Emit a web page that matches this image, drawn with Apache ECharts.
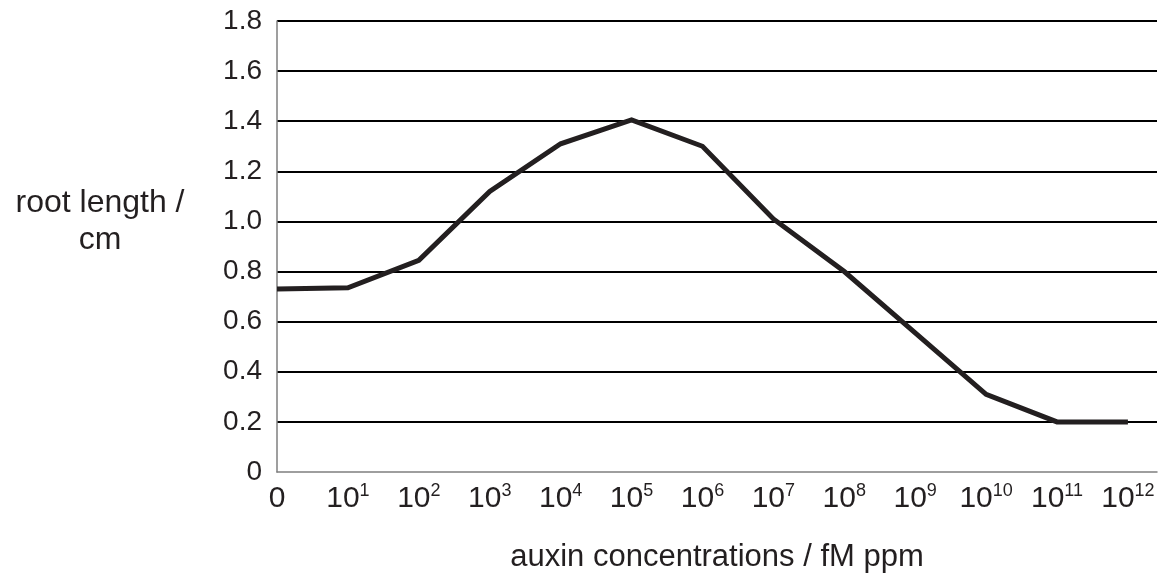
<!DOCTYPE html>
<html>
<head>
<meta charset="utf-8">
<script src="https://cdn.jsdelivr.net/npm/echarts@6/dist/echarts.min.js"></script>
<style>
  html, body { margin: 0; padding: 0; background: #fff; }
  #chart { width: 1171px; height: 575px; }
</style>
</head>
<body>
<div id="chart"></div>
<script>
// auxin concentration categories (x) and root length readings (y)
var categories = ['0', '10^1', '10^2', '10^3', '10^4', '10^5', '10^6', '10^7', '10^8', '10^9', '10^10', '10^11', '10^12'];
var rootLength = [0.73, 0.735, 0.845, 1.12, 1.31, 1.405, 1.30, 1.01, 0.80, 0.555, 0.31, 0.20, 0.20];
var yTicks = [0, 0.2, 0.4, 0.6, 0.8, 1.0, 1.2, 1.4, 1.6, 1.8];

var font = '"Liberation Sans", Arial, Helvetica, sans-serif';
var points = [];
for (var i = 0; i < categories.length; i++) {
  points.push([i, rootLength[i]]);
}

var myChart = echarts.init(document.getElementById('chart'));
var option = {
  backgroundColor: '#fff',
  animation: false,
  title: {
    text: 'root length /\ncm',
    left: 95,
    top: 180,
    textAlign: 'center',
    textStyle: {
      fontFamily: font,
      fontSize: 32,
      fontWeight: 'normal',
      color: '#231f20',
      lineHeight: 37,
      align: 'center'
    }
  },
  grid: {
    left: 277,
    right: 14,
    top: 21,
    bottom: 103,
    containLabel: false,
    outerBoundsMode: 'none'
  },
  xAxis: {
    type: 'value',
    min: 0,
    max: 12.41,
    interval: 1,
    name: 'auxin concentrations / fM ppm',
    nameLocation: 'middle',
    nameGap: 70,
    nameTextStyle: { fontFamily: font, fontSize: 31, color: '#231f20' },
    axisLine: { show: true, lineStyle: { color: '#7f7f7f', width: 1.5 } },
    axisTick: { show: false },
    splitLine: { show: false },
    axisLabel: {
      margin: 11,
      showMaxLabel: false,
      fontFamily: font,
      color: '#231f20',
      formatter: function (v) {
        if (Math.abs(v - Math.round(v)) > 1e-6) return '';
        var c = categories[Math.round(v)];
        if (c === undefined) return '';
        if (c.indexOf('^') < 0) return '{b|' + c + '}';
        var parts = c.split('^');
        return '{b|' + parts[0] + '}{s|' + parts[1] + '}';
      },
      rich: {
        b: { fontFamily: font, fontSize: 30, color: '#231f20', lineHeight: 32 },
        s: { fontFamily: font, fontSize: 18, color: '#231f20', lineHeight: 32, padding: [0, 0, 15, 0] }
      }
    }
  },
  yAxis: {
    type: 'value',
    min: yTicks[0],
    max: yTicks[yTicks.length - 1],
    interval: 0.2,
    axisLine: { show: true, lineStyle: { color: '#7f7f7f', width: 1.5 } },
    axisTick: { show: false },
    splitLine: {
      show: true,
      showMinLine: false,
      lineStyle: { color: '#000', width: 1.8 }
    },
    axisLabel: {
      margin: 15,
      fontFamily: font,
      fontSize: 28,
      color: '#231f20',
      formatter: function (v) {
        return v === 0 ? '0' : v.toFixed(1);
      }
    }
  },
  series: [
    {
      type: 'line',
      data: points,
      showSymbol: false,
      symbol: 'none',
      lineStyle: { color: '#231f20', width: 5, join: 'miter' },
      z: 5
    }
  ]
};
myChart.setOption(option);
</script>
</body>
</html>
